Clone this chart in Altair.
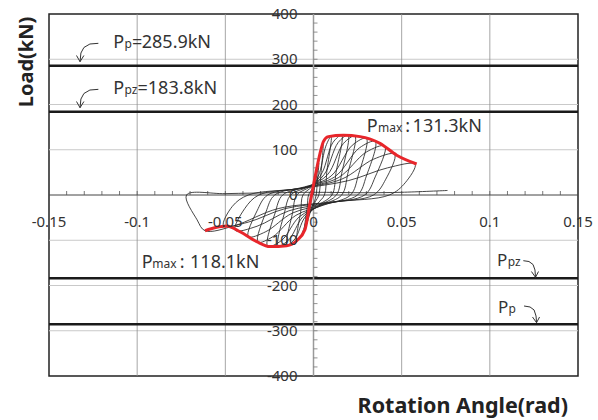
import altair as alt
import pandas as pd

# ---------------- data ----------------
# Hysteresis path (rotation rad, load kN), cycle by cycle
rot = [
    0.0, 0.001, 0.002, 0.003, 0.0022, 0.0015, 0.0005, -0.0008, -0.002, -0.0013, -0.0008,
    0.0005, 0.002, 0.0038, 0.0054, 0.0042, 0.003, 0.001, -0.0015, -0.0035, -0.005, -0.0035, -0.0028,
    -0.0005, 0.0035, 0.007, 0.010, 0.0075, 0.0062, 0.002, -0.003, -0.0065, -0.0094, -0.0072, -0.006,
    -0.001, 0.005, 0.011, 0.016, 0.0128, 0.0105, 0.003, -0.005, -0.0105, -0.015, -0.0118, -0.0095,
    -0.002, 0.006, 0.014, 0.0196, 0.016, 0.013, 0.004, -0.006, -0.014, -0.020, -0.0165, -0.013,
    -0.003, 0.008, 0.017, 0.0235, 0.0195, 0.016, 0.005, -0.008, -0.018, -0.026, -0.0218, -0.0175,
    -0.004, 0.010, 0.022, 0.030, 0.0255, 0.021, 0.006, -0.010, -0.023, -0.0315, -0.027, -0.022,
    -0.005, 0.012, 0.026, 0.035, 0.030, 0.025, 0.007, -0.012, -0.027, -0.037, -0.032, -0.026,
    -0.006, 0.014, 0.030, 0.0405, 0.035, 0.029, 0.008, -0.014, -0.032, -0.0445, -0.039, -0.031,
    -0.007, 0.016, 0.034, 0.046, 0.041, 0.034, 0.010, -0.016, -0.037, -0.051, -0.046, -0.037,
    -0.008, 0.020, 0.042, 0.0576, 0.052, 0.043, 0.012, -0.020, -0.045, -0.0615, -0.066, -0.072,
    -0.05, -0.02, 0.0, 0.03, 0.05, 0.076,
]
load = [
    0, 25, 50, 70, 30, 0, -15, -25, -35, -12, 0,
    20, 55, 95, 115, 45, 0, -15, -35, -60, -74, -25, 0,
    15, 50, 108, 130, 50, 0, -20, -45, -85, -99, -35, 0,
    18, 50, 116, 132, 50, 0, -22, -50, -97, -110, -38, 0,
    18, 45, 116, 132, 48, 0, -22, -48, -99, -112, -40, 0,
    18, 45, 114, 130, 48, 0, -22, -48, -100, -113, -40, 0,
    18, 42, 110, 125, 45, 0, -22, -45, -92, -104, -38, 0,
    18, 40, 104, 118, 42, 0, -20, -40, -81, -92, -35, 0,
    16, 38, 95, 108, 40, 0, -18, -35, -69, -78, -30, 0,
    15, 35, 79, 90, 35, 0, -16, -30, -60, -68, -25, 0,
    14, 32, 60, 68, 27, 0, -15, -30, -68, -79, -55, 0,
    3, 5, 6, 5, 6, 10,
]

# Red envelope curve
env_rot = [-0.0615, -0.0555, -0.0492, -0.0417, -0.0322, -0.0247, -0.0152, -0.0095,
           -0.0048, -0.002, 0.0009, 0.0037, 0.0056, 0.0084, 0.0169, 0.0264, 0.0377,
           0.0472, 0.0585]
env_load = [-79, -72, -68.5, -81, -103, -114, -112, -101, -76, -18, 40, 92, 118, 129,
            132, 129, 114, 88, 68.5]

# Capacity levels (kN)
cap_levels = [285.9, 183.8, -183.8, -285.9]

# Grid / tick values and labels
grid_load = [-300, -200, -100, 100, 200, 300]
grid_rot = [-0.1, -0.05, 0.05, 0.1]
xtick_vals = [-0.15, -0.1, -0.05, 0.0, 0.05, 0.1, 0.15]
xtick_text = ["-0.15", "-0.1", "-0.05", "0", "0.05", "0.1", "0.15"]
ytick_vals = [400, 300, 200, 100, 0, -100, -200, -300, -400]
ytick_text = ["400", "300", "200", "100", "0", "-100", "-200", "-300", "-400"]
xminor = [round(-0.14 + 0.01 * k, 3) for k in range(29)]
yminor = [-380 + 20 * k for k in range(39)]

# Annotation pieces (text, anchor rotation, anchor load, font size)
ann_text = ["P", "p", "=", "285.9kN",
            "P", "pz", "=183.8kN",
            "P", "max", ":", "131.3kN",
            "P", "max", ":", "118.1kN",
            "P", "pz",
            "P", "p"]
ann_x = [-0.1135, -0.1072, -0.1030, -0.0974,
         -0.1135, -0.1072, -0.0998,
         0.0302, 0.0366, 0.0520, 0.0562,
         -0.0974, -0.0914, -0.0758, -0.0700,
         0.1041, 0.1101,
         0.1046, 0.1106]
ann_y = [323.8, 323.8, 323.8, 323.8,
         223.2, 223.2, 223.2,
         140.3, 140.3, 140.3, 140.3,
         -162, -162, -162, -162,
         -156.9, -156.9,
         -260.8, -260.8]
ann_size = [18, 12, 18, 18,
            18, 12, 18,
            18, 12, 18, 18,
            18, 12, 18, 18,
            17, 12,
            17, 12]

# Curved arrows pointing to the capacity lines
arr_g = (["a1"] * 5 + ["a1h"] * 3 + ["a2"] * 5 + ["a2h"] * 3 +
         ["a3"] * 5 + ["a3h"] * 3 + ["a4"] * 5 + ["a4h"] * 3)
arr_x = [-0.1220, -0.1268, -0.1302, -0.1319, -0.1324, -0.1344, -0.1324, -0.1302,
         -0.1220, -0.1268, -0.1302, -0.1319, -0.1324, -0.1344, -0.1324, -0.1302,
         0.1190, 0.1222, 0.1245, 0.1256, 0.1259, 0.1236, 0.1259, 0.1276,
         0.1194, 0.1228, 0.1251, 0.1262, 0.1265, 0.1242, 0.1265, 0.1282]
arr_y = [335.2, 333.7, 326.0, 313.8, 294.6, 308.3, 294.6, 308.3,
         233.5, 232.0, 224.3, 212.1, 192.9, 206.6, 192.9, 206.6,
         -145.2, -147.0, -153.6, -165.7, -181.9, -169.1, -181.9, -169.1,
         -245.3, -247.5, -254.1, -267.4, -282.2, -269.6, -282.2, -269.6]

# ---------------- chart ----------------
W, H = 529, 362
FONT = "Noto Sans"
TXT = "#333333"

xs = alt.Scale(domain=[-0.15, 0.15], nice=False, zero=False)
ys = alt.Scale(domain=[-400, 400], nice=False, zero=False)


def X(f):
    return alt.X(f"{f}:Q", scale=xs, axis=None)


def Y(f):
    return alt.Y(f"{f}:Q", scale=ys, axis=None)


hgrid = alt.Chart(pd.DataFrame({"y": grid_load})).mark_rule(
    color="#c9c9c9", strokeWidth=1).encode(y=Y("y"))
vgrid = alt.Chart(pd.DataFrame({"x": grid_rot})).mark_rule(
    color="#8f8f8f", strokeWidth=0.8).encode(x=X("x"))
xaxis = alt.Chart(pd.DataFrame({"y": [0]})).mark_rule(
    color="#444444", strokeWidth=1).encode(y=Y("y"))
yaxis = alt.Chart(pd.DataFrame({"x": [0.0]})).mark_rule(
    color="#9a9a9a", strokeWidth=1.5).encode(x=X("x"))
xticks = alt.Chart(pd.DataFrame({"x": xminor})).mark_rule(
    color="#555555", strokeWidth=0.8).encode(
    x=X("x"), y=alt.value(H / 2), y2=alt.value(H / 2 - 4))
yticks = alt.Chart(pd.DataFrame({"y": yminor})).mark_rule(
    color="#777777", strokeWidth=0.8).encode(
    y=Y("y"), x=alt.value(W / 2), x2=alt.value(W / 2 + 4))
caps = alt.Chart(pd.DataFrame({"y": cap_levels})).mark_rule(
    color="#1a1a1a", strokeWidth=2.5).encode(y=Y("y"))

hyst = alt.Chart(pd.DataFrame({"r": rot, "p": load, "i": list(range(len(rot)))})).mark_line(
    color="#262626", strokeWidth=0.85, interpolate="catmull-rom").encode(
    x=X("r"), y=Y("p"), order="i:Q")
env = alt.Chart(pd.DataFrame({"r": env_rot, "p": env_load})).mark_line(
    color="#e8262b", strokeWidth=3, interpolate="monotone").encode(
    x=X("r"), y=Y("p"))

xlabels = alt.Chart(pd.DataFrame({"x": xtick_vals, "t": xtick_text})).mark_text(
    font=FONT, fontSize=15, color=TXT, baseline="middle", align="center").encode(
    x=X("x"), y=alt.value(H / 2 + 27), text="t:N")
ylabels = alt.Chart(pd.DataFrame({"y": ytick_vals, "t": ytick_text})).mark_text(
    font=FONT, fontSize=15, color=TXT, baseline="middle", align="right").encode(
    y=Y("y"), x=alt.value(W / 2 - 16), text="t:N")

ann = alt.Chart(pd.DataFrame({"t": ann_text, "x": ann_x, "y": ann_y, "s": ann_size})).mark_text(
    font=FONT, color=TXT, align="left", baseline="alphabetic").encode(
    x=X("x"), y=Y("y"), text="t:N", size=alt.Size("s:Q", scale=None, legend=None))

arrows = alt.Chart(pd.DataFrame({"g": arr_g, "x": arr_x, "y": arr_y,
                                 "i": list(range(len(arr_x)))})).mark_line(
    color="#333333", strokeWidth=1).encode(
    x=X("x"), y=Y("y"), detail="g:N", order="i:Q")

ytitle = alt.Chart(pd.DataFrame({"t": ["Load(kN)"]})).mark_text(
    font=FONT, fontSize=20, fontWeight="bold", color="#222222", angle=270,
    align="center", baseline="middle").encode(
    x=alt.value(-22), y=alt.value(48), text="t:N")
xtitle = alt.Chart(pd.DataFrame({"t": ["Rotation Angle(rad)"]})).mark_text(
    font=FONT, fontSize=21.5, fontWeight="bold", color="#222222",
    align="right", baseline="alphabetic").encode(
    x=alt.value(519), y=alt.value(399), text="t:N")

chart = alt.layer(
    hgrid, vgrid, caps, xaxis, yaxis, xticks, yticks, hyst, env,
    xlabels, ylabels, ann, arrows, ytitle, xtitle
).properties(
    width=W, height=H,
    autosize=alt.AutoSizeParams(type="none"),
    padding={"left": 49, "top": 14, "right": 20, "bottom": 44},
    background="white",
).configure_view(stroke="#222222", strokeWidth=1.5)

chart.save("out.html", embed_options={"renderer": "svg", "actions": False})
